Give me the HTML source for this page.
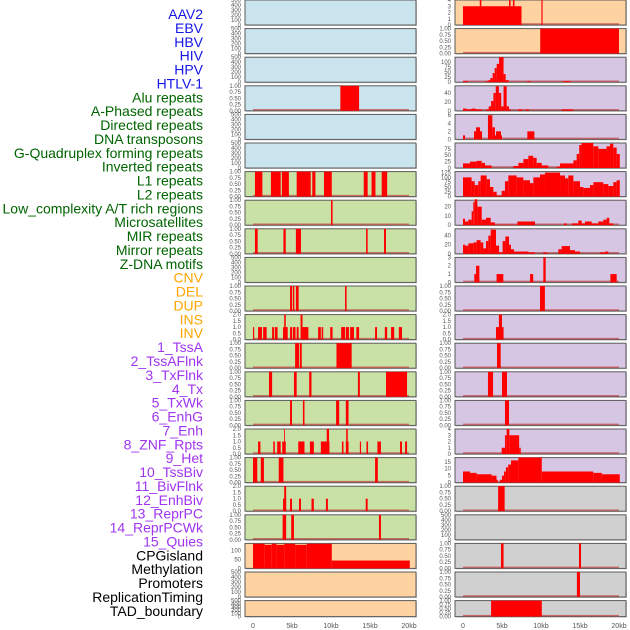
<!DOCTYPE html>
<html><head><meta charset="utf-8">
<style>
body{margin:0;background:#fff;width:630px;height:630px;overflow:hidden;font-family:"Liberation Sans",sans-serif}
svg{position:absolute;left:0;top:0}
</style></head>
<body>
<svg id="chart" width="630" height="630"></svg>
<script>
const trackLabels=["AAV2","EBV","HBV","HIV","HPV","HTLV-1","Alu repeats","A-Phased repeats","Directed repeats","DNA transposons","G-Quadruplex forming repeats","Inverted repeats","L1 repeats","L2 repeats","Low_complexity A/T rich regions","Microsatellites","MIR repeats","Mirror repeats","Z-DNA motifs","CNV","DEL","DUP","INS","INV","1_TssA","2_TssAFlnk","3_TxFlnk","4_Tx","5_TxWk","6_EnhG","7_Enh","8_ZNF_Rpts","9_Het","10_TssBiv","11_BivFlnk","12_EnhBiv","13_ReprPC","14_ReprPCWk","15_Quies","CPGisland","Methylation","Promoters","ReplicationTiming","TAD_boundary"];
const labelGroups=[6,13,5,15,5];
const groupColors=["#1515e6","#006400","#ffa500","#a035f0","#000000"];
const xTickVals=[0,5000,10000,15000,20000];
const xTickLabels=["0","5kb","10kb","15kb","20kb"];
const E=[0,500];
const leftYMax=[500,500,500,1,500,500,1,1,1,500,1,2,1,1,1,2,1,2,1,140,500,500];
const leftBg=["b","b","b","b","b","b","g","g","g","g","g","g","g","g","g","g","g","g","g","o","o","o"];
const leftBars=[
[],[],[],
[[11.2,13.6,1]],
[],[],
[[0.25,1.2,1],[2.3,3.55,1],[3.7,4.6,1],[5.6,7.4,1],[7.6,8.0,1],[9.1,10.1,1],[14.2,14.7,1],[15.2,15.7,1],[16.5,17.2,1]],
[[10.0,10.2,1]],
[[0.25,0.6,1],[3.9,4.2,1],[5.5,6.15,1],[14.5,14.7,1],[16.8,17.05,1]],
[],
[[4.75,5.0,1],[5.1,5.3,1],[5.5,5.85,1],[11.8,12.0,1]],
[[0,0.15,1],[0.65,1.15,1],[1.3,1.75,1],[2.45,2.7,1],[2.8,3.15,1],[3.85,4.45,1],[4.0,4.2,2],[4.75,5.0,1],[5.1,5.45,1],[5.6,5.85,1],[6.1,6.35,2],[6.35,7.1,1],[8.35,8.7,1],[8.8,9.0,1],[9.9,10.2,1],[11.3,11.8,1],[11.9,12.3,1],[12.45,12.95,1],[13.25,13.6,1],[15.65,15.9,1],[16.9,17.2,1],[17.7,18.1,1],[18.7,19.1,1]],
[[5.4,5.9,1],[6.0,6.25,1],[10.7,12.65,1]],
[[2.05,2.45,1],[5.25,5.6,1],[7.2,7.5,1],[13.45,13.7,1],[17.05,19.75,1]],
[[4.75,5.0,1],[6.4,6.6,1],[10.65,11.05,1],[11.9,12.25,1]],
[[0.65,0.95,1],[2.6,2.8,1],[3.1,3.55,1],[3.75,4.2,1],[4.0,4.1,2],[5.8,6.6,1],[7.3,7.8,1],[8.7,9.8,1],[9.45,9.75,2],[11.4,11.6,1],[11.9,12.25,1],[11.95,12.15,2],[13.7,13.85,1],[14.55,14.75,1],[15.95,16.4,1],[18.85,19.1,1],[19.5,19.75,1]],
[[0,0.55,1],[1.0,1.4,1],[3.3,3.9,1],[15.65,16.0,1]],
[[3.85,4.25,1],[4.0,4.25,2],[4.75,5.0,1],[5.9,6.15,1],[7.5,7.8,1],[9.35,9.6,1],[14.45,14.7,1]],
[[3.8,4.25,1],[4.9,5.25,1],[16.15,16.4,1]],
[[0,1.5,138],[1.5,2.4,132],[2.4,3.0,138],[3.0,4.0,132],[4.0,5.4,138],[5.4,6.9,132],[6.9,10.1,138],[10.1,20.1,44]],
[],[]
];
const rightYMax=[4,1,123,56,6.2,98,130,27,55,3,1,2,1,1,1,4,18,1,500,1,1,1];
const rightBg=["o","o","p","p","p","p","p","p","p","p","p","p","p","p","p","p","p","x","x","x","x","x"];
const rightBars=[
[[0,7.5,3],[2.15,2.35,4],[5.9,6.1,4],[6.4,6.6,4],[10.05,10.2,4]],
[[9.9,20,1]],
[[0,0.65,5],[2.95,3.25,5],[3.25,3.5,10],[3.5,3.8,20],[3.8,4.06,45],[4.06,4.32,70],[4.32,4.62,90],[4.62,5.2,123],[5.2,5.47,40],[5.47,5.85,10],[8.25,8.6,5],[12.86,13.8,5]],
[[0,0.45,5],[0.45,1.1,3],[1.1,1.6,5],[1.6,2.4,3],[2.95,3.3,3],[3.3,3.6,10],[3.6,3.9,22],[3.9,4.2,40],[4.2,4.6,55],[4.6,4.9,40],[4.9,5.2,10],[5.2,5.6,55],[5.6,5.9,10],[5.9,6.1,3],[7.05,7.6,3],[8.0,8.45,3],[12.65,14.15,3]],
[[0,0.26,1],[1.41,1.67,2],[1.67,2.18,3],[2.18,2.44,2],[3.2,3.76,6],[3.76,4.1,3],[4.1,4.23,1],[4.23,4.87,2],[4.87,5.0,1],[8.25,9.15,2]],
[[0,0.9,18],[0.9,1.75,25],[1.75,2.4,28],[2.4,2.82,20],[2.82,3.67,10],[6.45,7.1,8],[7.1,7.74,20],[7.74,8.38,35],[8.38,9.0,48],[9.0,9.44,40],[9.44,10.1,20],[10.1,10.94,10],[12.0,12.44,5],[12.44,14.15,18],[14.15,14.57,30],[14.57,14.9,55],[14.9,15.2,90],[15.2,16.7,98],[16.7,17.35,85],[17.35,18.4,75],[18.4,18.85,85],[18.85,19.27,95],[19.27,19.7,80],[19.7,20.1,55]],
[[0,1.1,100],[1.1,1.5,80],[1.5,1.96,60],[1.96,2.26,80],[2.26,3.03,110],[3.03,3.46,90],[3.46,3.89,50],[3.89,4.32,25],[4.32,4.96,5],[4.96,5.38,30],[5.38,5.81,80],[5.81,6.88,110],[6.88,7.74,100],[7.74,8.59,85],[8.59,9.02,70],[9.02,9.87,100],[9.87,10.51,115],[10.51,12.44,125],[12.44,13.08,110],[13.08,13.5,95],[13.5,14.15,110],[14.15,15.0,80],[15.0,15.43,50],[15.43,16.28,45],[16.28,16.71,60],[16.71,17.99,75],[17.99,18.63,65],[18.63,19.27,55],[19.27,19.7,75],[19.7,20.1,85]],
[[0,0.26,7],[0.26,0.68,4],[0.68,1.11,6],[1.11,1.32,15],[1.32,1.5,25],[1.5,1.84,28],[1.84,2.4,20],[2.4,2.95,6],[2.95,3.55,8],[3.55,4.1,3],[4.1,6.97,0.5],[6.97,9.23,4],[12.95,13.29,2],[13.93,14.79,2],[14.79,15.21,5],[15.21,15.64,2],[15.64,16.5,4],[16.5,17.35,2],[17.35,17.99,4],[17.99,18.42,6],[18.42,18.76,8],[18.76,19.27,2]],
[[0,0.26,20],[0.26,0.68,18],[0.68,1.32,23],[1.32,1.75,25],[1.75,2.26,30],[2.26,2.6,25],[2.6,2.95,12],[2.95,3.25,28],[3.25,3.55,40],[3.55,4.23,53],[4.23,4.62,18],[4.62,5.08,3],[5.08,5.43,28],[5.43,5.9,38],[5.9,6.15,20],[6.15,6.54,10],[6.54,8.38,5],[8.38,9.23,3],[10.3,10.81,3],[12.22,12.65,10],[12.65,13.72,17],[13.72,14.36,8],[14.36,15.0,5],[17.56,18.2,3],[18.2,18.63,5]],
[[1.45,1.67,1],[1.67,2.1,2],[4.3,5.17,1],[8.6,9.0,1],[10.3,10.6,3],[18.9,19.7,1]],
[[9.87,10.5,1]],
[[4.23,5.2,1],[4.6,5.0,2]],
[[4.36,4.83,1]],
[[3.2,3.85,1],[5.0,5.64,1]],
[[5.38,5.9,1]],
[[4.96,5.38,1],[5.38,5.6,3],[5.6,5.94,4],[5.94,7.2,3],[7.2,7.4,1]],
[[0,0.9,8],[0.9,1.75,7],[1.75,3.67,6],[3.67,4.3,5],[4.3,4.45,2],[4.74,5.0,2],[5.0,5.26,5],[5.26,5.5,8],[5.5,5.8,11],[5.8,6.15,13],[6.15,7.1,16],[7.1,10.1,18],[10.1,16.7,8],[16.7,17.8,7],[17.8,20.1,6]],
[[4.5,5.34,1]],
[],
[[4.87,5.2,1],[14.87,15.13,1]],
[[14.6,15.0,1]],
[[3.6,10.1,1]]
];
const bgColors={b:"#c9e4ec",g:"#c9e1a4",o:"#ffd2a2",p:"#d6c6e3",x:"#d0d0d0"};
function ticksFor(m){
  if(m===500) return [[0,"0"],[100,"100"],[200,"200"],[300,"300"],[400,"400"],[500,"500"]];
  if(m===1) return [[0,"0.00"],[0.25,"0.25"],[0.5,"0.50"],[0.75,"0.75"],[1,"1.00"]];
  if(m===2) return [[0,"0.0"],[0.5,"0.5"],[1,"1.0"],[1.5,"1.5"],[2,"2.0"]];
  const map={4:[0,1,2,3,4],123:[0,25,50,75,100],56:[0,20,40],6.2:[0,2,4,6],98:[0,25,50,75],130:[0,25,50,75,100,125],27:[0,10,20],55:[0,20,40],3:[0,1,2,3],18:[0,5,10,15],140:[0,50,100]};
  return (map[m]||[0]).map(v=>[v,String(v)]);
}
const NS="http://www.w3.org/2000/svg";
const svg=document.getElementById("chart");
function mk(tag,attrs,parent){const e=document.createElementNS(NS,tag);for(const k in attrs)e.setAttribute(k,attrs[k]);(parent||svg).appendChild(e);return e;}
// labels
let li=0;
labelGroups.forEach((n,g)=>{for(let k=0;k<n;k++){const t=mk("text",{x:203,y:14+li*13.88+5,"text-anchor":"end","font-size":"14",fill:groupColors[g]});t.textContent=trackLabels[li];


li++;}});
function drawPanel(col,i,ymax,bg,bars){
  const left=col===0?245:455, right=col===0?416:626;
  const top=i*28.6, h=i===21?16:25;
  const x0=left+8, xs=156/20000;
  const X=v=>x0+v*xs;
  const Y=v=>top+h-(v/ymax)*h;
  const g=mk("g",{});
  
  
  mk("rect",{x:left+1,y:top+1,width:right-left,height:h,fill:"#999",opacity:0.5},g);
  mk("rect",{x:left,y:top,width:right-left,height:h,fill:bgColors[bg],stroke:"#5a5a5a","stroke-width":1},g);
  if(ymax!==500) mk("line",{x1:X(0),x2:X(20000),y1:top+h-1,y2:top+h-1,stroke:"#c04040","stroke-width":1.5,opacity:0.7},g);
  bars.forEach(b=>{const r=mk("rect",{x:X(b[0]*1000),y:Y(b[2]),width:Math.max(0.8,X(b[1]*1000)-X(b[0]*1000)),height:Y(0)-Y(b[2]),fill:"#ff0000"},g);
    
    });
  ticksFor(ymax).forEach(t=>{const tx=mk("text",{x:left-4,y:Y(t[0])+2,"text-anchor":"end","font-size":"6",fill:"#555"},g);tx.textContent=t[1];
    
    });
  if(i===21){xTickVals.forEach((v,k)=>{const tx=mk("text",{x:X(v),y:628,"text-anchor":"middle","font-size":"7",fill:"#555"},g);tx.textContent=xTickLabels[k];
    
    });}
}
for(let i=0;i<22;i++){drawPanel(0,i,leftYMax[i],leftBg[i],leftBars[i]);drawPanel(1,i,rightYMax[i],rightBg[i],rightBars[i]);}
</script>
</body></html>
